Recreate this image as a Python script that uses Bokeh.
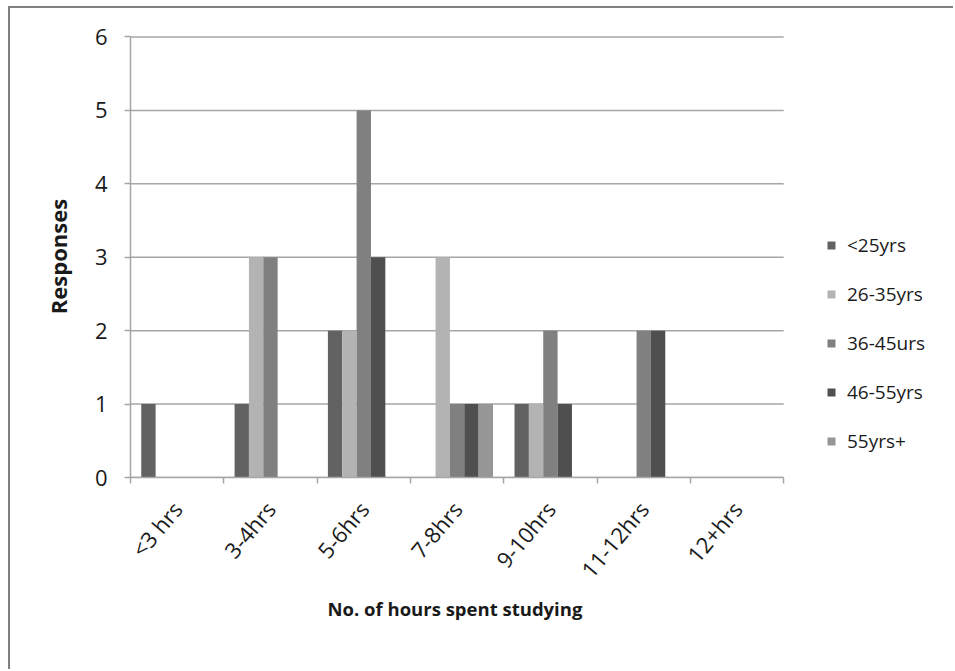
from bokeh.embed import file_html
from bokeh.models import (ColumnDataSource, FixedTicker, Legend, LegendItem, LinearAxis,
                          Range1d, Title)
from bokeh.plotting import figure
from bokeh.resources import INLINE
from bokeh.transform import dodge

# Study-hours survey: responses per hours bracket, split by age group
categories = ["<3 hrs", "3-4hrs", "5-6hrs", "7-8hrs", "9-10hrs", "11-12hrs", "12+hrs"]
age_groups = ["<25yrs", "26-35yrs", "36-45urs", "46-55yrs", "55yrs+"]
under_25 = [1, 1, 2, 0, 1, 0, 0]
age_26_35 = [0, 3, 2, 3, 1, 0, 0]
age_36_45 = [0, 3, 5, 1, 2, 2, 0]
age_46_55 = [0, 0, 3, 1, 1, 2, 0]
over_55 = [0, 0, 0, 1, 0, 0, 0]
y_ticks = [0, 1, 2, 3, 4, 5, 6]

series = [under_25, age_26_35, age_36_45, age_46_55, over_55]
colors = ["#626262", "#b3b3b3", "#808080", "#4f4f4f", "#969696"]

FONT = "Open Sans"
GRID = "#a6a6a6"
TEXT = "#1a1a1a"

n_cat = len(categories)
centers = [k + 0.5 for k in range(n_cat)]

data = {"x": centers}
for i, vals in enumerate(series):
    data[f"s{i}"] = vals
source = ColumnDataSource(data)

# The frame runs to the right edge so the legend can sit beside the bars;
# the category area covers x = 0..n_cat, the rest holds the legend.
X_END = n_cat * 1.263
p = figure(
    width=945, height=663,
    x_range=Range1d(0, X_END),
    y_range=Range1d(0, 6.02),
    x_axis_location=None,
    output_backend="svg", toolbar_location=None,
    min_border_left=120, min_border_right=0,
    min_border_top=27, min_border_bottom=194,
    outline_line_color=None,
)
p.styles = {
    "margin-left": "8px", "margin-top": "6px",
    "border-left": "2px solid #808080", "border-top": "2px solid #808080",
}

# Horizontal gridlines across the category area only
p.segment(x0=0, x1=n_cat, y0=y_ticks, y1=y_ticks, line_color=GRID, line_width=1.5)

# Bars: 5 per group, 150% gap width between groups
n = len(series)
bar_w = 1.0 / (n + 1.5)
renderers = []
for i in range(n):
    off = (i - (n - 1) / 2) * bar_w
    r = p.vbar(x=dodge("x", off), top=f"s{i}", width=bar_w,
               source=source, fill_color=colors[i], line_color=None)
    renderers.append(r)

# Axis line with tick marks at the category boundaries (no labels)
edges = list(range(n_cat + 1))
edge_axis = LinearAxis(
    bounds=(0, n_cat),
    ticker=FixedTicker(ticks=edges),
    major_label_overrides={e: "" for e in edges},
    major_label_text_font_size="1px", major_label_standoff=0,
    major_tick_in=0, major_tick_out=6, minor_tick_out=0, minor_tick_in=0,
    axis_line_color=GRID, axis_line_width=1.5,
    major_tick_line_color=GRID, major_tick_line_width=1.5,
)
p.add_layout(edge_axis, "below")

# Category names centred under each group
cat_axis = LinearAxis(
    bounds=(0, n_cat),
    ticker=FixedTicker(ticks=centers),
    major_label_overrides={c: name for c, name in zip(centers, categories)},
    major_label_orientation=0.87,
    axis_line_color=None, major_tick_line_color=None,
    major_tick_in=0, major_tick_out=0, minor_tick_out=0, minor_tick_in=0,
    major_label_standoff=21,
    major_label_text_font=FONT, major_label_text_font_size="22px",
    major_label_text_color=TEXT,
)
p.add_layout(cat_axis, "below")

# X-axis title, centred under the category area
x_title = Title(
    text="No. of hours spent studying", align="left", offset=197, standoff=0,
    vertical_align="top",
    text_font=FONT, text_font_size="18.5px", text_font_style="bold",
    text_color=TEXT,
)
p.add_layout(x_title, "below")

p.yaxis.ticker = FixedTicker(ticks=y_ticks)
p.yaxis.bounds = (0, 6)
p.yaxis.major_tick_in = 0
p.yaxis.major_tick_out = 6
p.yaxis.minor_tick_out = 0
p.yaxis.axis_line_color = GRID
p.yaxis.axis_line_width = 1.5
p.yaxis.major_tick_line_color = GRID
p.yaxis.major_tick_line_width = 1.5
p.yaxis.major_label_standoff = 17
p.yaxis.major_label_text_font = FONT
p.yaxis.major_label_text_font_size = "22px"
p.yaxis.major_label_text_color = TEXT
p.yaxis.axis_label = "Responses"
p.yaxis.axis_label_text_font = FONT
p.yaxis.axis_label_text_font_size = "22px"
p.yaxis.axis_label_text_font_style = "bold"
p.yaxis.axis_label_text_color = TEXT
p.yaxis.axis_label_standoff = 19

p.xgrid.visible = False
p.ygrid.visible = False

legend = Legend(
    items=[LegendItem(label=age_groups[i], renderers=[renderers[i]]) for i in range(n)],
    location=(696, 23),
    orientation="vertical",
    glyph_width=10, glyph_height=10,
    label_height=20, spacing=23,
    label_standoff=11,
    label_text_font=FONT, label_text_font_size="19px", label_text_color=TEXT,
    padding=0, margin=0,
    border_line_color=None, background_fill_alpha=0,
)
p.add_layout(legend, "center")

open("out.html", "w").write(file_html(p, INLINE))
